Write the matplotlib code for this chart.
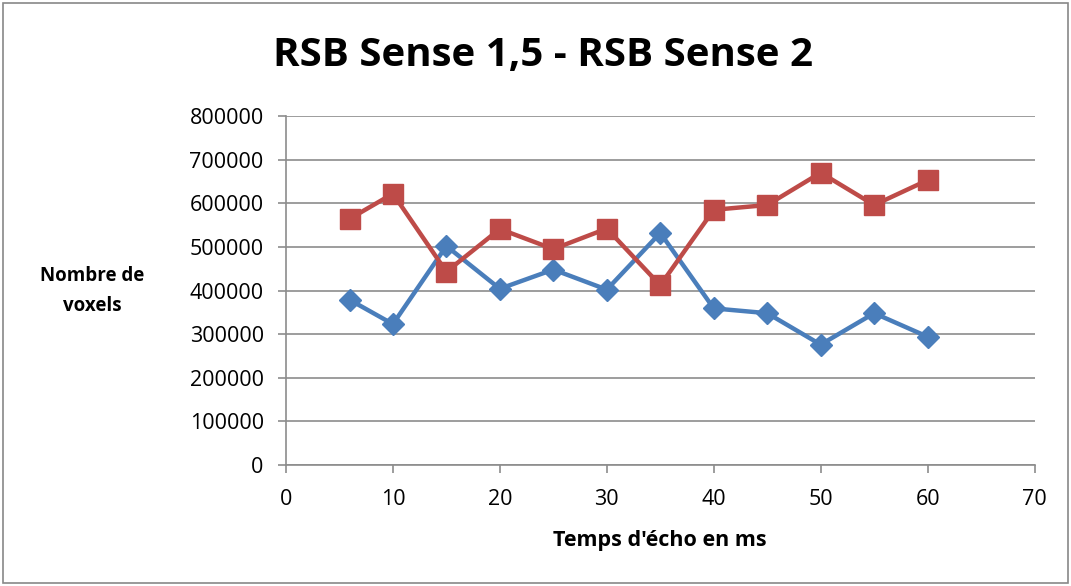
import matplotlib
matplotlib.use("Agg")
import matplotlib.pyplot as plt
from matplotlib.patches import Rectangle

# Echo times (ms) and voxel counts for the two series
echo_times = [6, 10, 15, 20, 25, 30, 35, 40, 45, 50, 55, 60]
rsb_sense_15 = [378000, 323000, 502000, 404000, 448000, 402000, 532000,
                359000, 348000, 276000, 348000, 294000]
rsb_sense_2 = [565000, 622000, 443000, 541000, 495000, 542000, 412000,
               585000, 596000, 670000, 596000, 653000]

x_ticks = [0, 10, 20, 30, 40, 50, 60, 70]
y_ticks = [0, 100000, 200000, 300000, 400000, 500000, 600000, 700000, 800000]

plt.rcParams['font.family'] = ['Open Sans', 'DejaVu Sans']

fig = plt.figure(figsize=(10.71, 5.86), dpi=100)
ax = fig.add_axes([0.267, 0.2065, 0.699, 0.5955])

grid_col = '#8c8c8c'
ax.plot(echo_times, rsb_sense_15, color='#4A7EBB', lw=3.2, marker='D',
        markersize=11, markeredgecolor='#4A7EBB', zorder=3)
ax.plot(echo_times, rsb_sense_2, color='#BE4B48', lw=3.2, marker='s',
        markersize=14, markeredgecolor='#BE4B48', zorder=4)

ax.set_xlim(0, 70)
ax.set_ylim(0, 800000)
ax.set_xticks(x_ticks)
ax.set_yticks(y_ticks)
ax.set_xticklabels([str(v) for v in x_ticks])
ax.set_yticklabels([str(v) for v in y_ticks])
ax.yaxis.grid(True, color=grid_col, lw=1.2)
ax.set_axisbelow(True)
for side in ('top', 'right'):
    ax.spines[side].set_visible(False)
for side in ('left', 'bottom'):
    ax.spines[side].set_color(grid_col)
    ax.spines[side].set_linewidth(1.2)
ax.tick_params(axis='both', colors=grid_col, length=6, width=1.2,
               labelsize=15.5, labelcolor='black')
ax.tick_params(axis='y', pad=10)
ax.tick_params(axis='x', pad=11)

fig.text(0.507, 0.905, 'RSB Sense 1,5 - RSB Sense 2', ha='center',
         va='center', fontsize=29, fontweight='bold')
fig.text(0.086, 0.503, 'Nombre de\nvoxels', ha='center', va='center',
         fontsize=13.5, fontweight='bold', linespacing=1.7)
fig.text(0.616, 0.077, "Temps d'écho en ms", ha='center', va='center',
         fontsize=15.5, fontweight='bold')

fig.add_artist(Rectangle((0.003, 0.005), 0.994, 0.99, transform=fig.transFigure,
                         fill=False, edgecolor='#888888', lw=1.2))

fig.savefig('out.png', dpi=100)
